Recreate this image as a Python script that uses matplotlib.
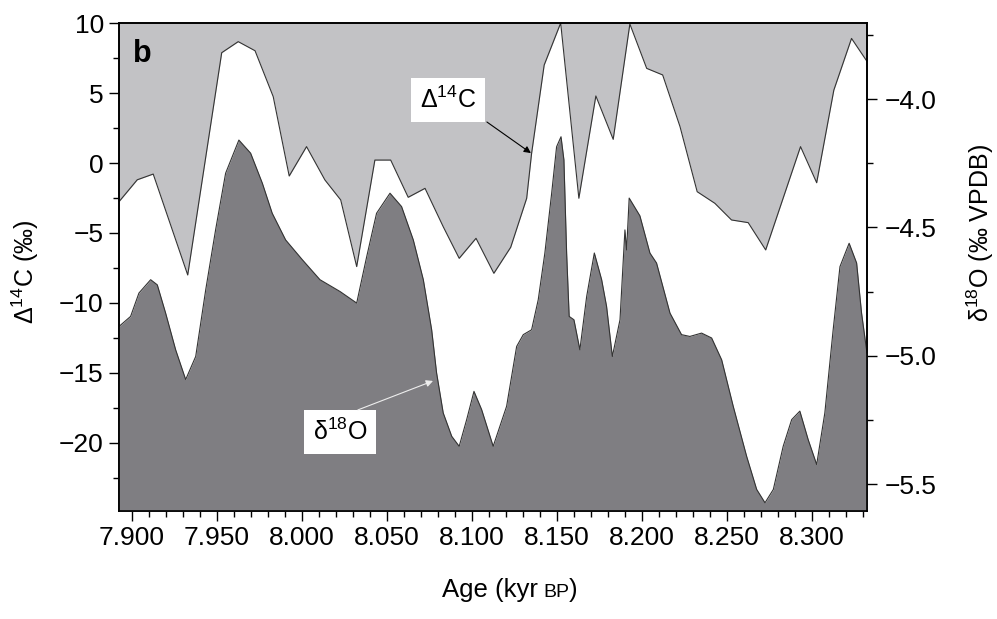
import matplotlib.pyplot as plt
from matplotlib.ticker import MultipleLocator, FormatStrFormatter, FuncFormatter

plt.rcParams['font.family'] = ['Liberation Sans', 'DejaVu Sans']

# Δ14C record (left axis)
age_c14 = [7.8924, 7.9031, 7.9125, 7.9328, 7.9528, 7.9625, 7.9724, 7.9831, 7.9925, 8.0027,
           8.0135, 8.0228, 8.0322, 8.0429, 8.0522, 8.0625, 8.0724, 8.0831, 8.0925, 8.1024,
           8.1129, 8.1228, 8.1322, 8.1351, 8.1425, 8.1522, 8.1629, 8.1729, 8.1831, 8.1929,
           8.2028, 8.2122, 8.2224, 8.2325, 8.2429, 8.2527, 8.2625, 8.2728, 8.2933, 8.3028,
           8.3129, 8.3233, 8.3325]
d14c = [-2.76, -1.20, -0.79, -8.00, 7.88, 8.67, 8.02, 4.74, -0.93, 1.17,
        -1.21, -2.64, -7.40, 0.21, 0.21, -2.45, -1.81, -4.55, -6.81, -5.38,
        -7.88, -6.02, -2.52, 0.69, 7.00, 10.0, -2.52, 4.79, 1.69, 9.93,
        6.76, 6.29, 2.60, -2.05, -2.88, -4.07, -4.26, -6.21, 1.17, -1.41,
        5.21, 8.90, 7.24]

# δ18O record (right axis)
age_o18 = [7.8924, 7.8992, 7.9041, 7.9110, 7.9149, 7.9198, 7.9257, 7.9316, 7.9375, 7.9434,
           7.9492, 7.9551, 7.9629, 7.9698, 7.9767, 7.9825, 7.9904, 8.0002, 8.0106, 8.0224,
           8.0322, 8.0381, 8.0439, 8.0518, 8.0586, 8.0655, 8.0714, 8.0763, 8.0792, 8.0831,
           8.0881, 8.0925, 8.0969, 8.1012, 8.1057, 8.1125, 8.1204, 8.1263, 8.1302, 8.1351,
           8.1390, 8.1429, 8.1469, 8.1498, 8.1524, 8.1541, 8.1557, 8.1572, 8.1600, 8.1635,
           8.1675, 8.1720, 8.1763, 8.1792, 8.1826, 8.1871, 8.1900, 8.1910, 8.1925, 8.1988,
           8.2047, 8.2086, 8.2165, 8.2233, 8.2282, 8.2351, 8.2410, 8.2469, 8.2537, 8.2616,
           8.2675, 8.2724, 8.2773, 8.2831, 8.2881, 8.2929, 8.2978, 8.3028, 8.3076, 8.3125,
           8.3165, 8.3219, 8.3263, 8.3292, 8.3324]
d18o = [-4.886, -4.847, -4.756, -4.704, -4.724, -4.834, -4.977, -5.093, -5.003, -4.743,
        -4.510, -4.289, -4.160, -4.211, -4.328, -4.445, -4.549, -4.626, -4.704, -4.750,
        -4.795, -4.614, -4.445, -4.367, -4.419, -4.549, -4.704, -4.899, -5.067, -5.223,
        -5.314, -5.353, -5.249, -5.139, -5.210, -5.353, -5.197, -4.964, -4.918, -4.899,
        -4.782, -4.600, -4.367, -4.186, -4.147, -4.237, -4.600, -4.847, -4.860, -4.977,
        -4.769, -4.600, -4.704, -4.808, -5.003, -4.860, -4.510, -4.588, -4.386, -4.455,
        -4.600, -4.639, -4.834, -4.918, -4.925, -4.912, -4.931, -5.016, -5.197, -5.392,
        -5.521, -5.573, -5.521, -5.353, -5.249, -5.216, -5.327, -5.424, -5.223, -4.899,
        -4.653, -4.562, -4.639, -4.834, -4.990]

light = '#c2c2c5'
dark = '#7f7e82'
edge = '#333333'

fig = plt.figure(figsize=(9.97, 6.19), dpi=100)
ax = fig.add_axes([0.1194, 0.1745, 0.7502, 0.7883])
ax2 = ax.twinx()

ax.fill_between(age_c14, d14c, 10, color=light, lw=0)
ax.plot(age_c14, d14c, color=edge, lw=0.8)
ax.set_xlim(7.8924, 8.3324)
ax.set_ylim(-24.86, 10)

ax2.fill_between(age_o18, d18o, -5.605, color=dark, lw=0)
ax2.plot(age_o18, d18o, color=edge, lw=0.8)
ax2.set_ylim(-5.605, -3.704)

ax.xaxis.set_major_locator(MultipleLocator(0.05))
ax.xaxis.set_minor_locator(MultipleLocator(0.01))
ax.xaxis.set_major_formatter(FormatStrFormatter('%.3f'))
ax.yaxis.set_major_locator(MultipleLocator(5))
ax.yaxis.set_minor_locator(MultipleLocator(2.5))
ax2.yaxis.set_major_locator(MultipleLocator(0.5))
ax2.yaxis.set_minor_locator(MultipleLocator(0.25))
ax2.yaxis.set_major_formatter(FuncFormatter(lambda v, p: f'{v:.1f}'.replace('-', '\u2212')))

for a in (ax, ax2):
    a.tick_params(which='major', length=7, width=1, labelsize=19, pad=4)
    a.tick_params(which='minor', length=4, width=1)
    for s in a.spines.values():
        s.set_linewidth(1.2)
ax2.tick_params(axis='y', which='major', pad=6)

# labels inside the plot
ax2.text(0.0187, 0.92, 'b', transform=ax2.transAxes, fontsize=22, fontweight='bold', va='baseline')
ax2.text(8.0859, 4.5, 'Δ$\\mathregular{^{14}}$C', transform=ax.transData, ha='center', va='center',
         fontsize=18, bbox=dict(boxstyle='square,pad=0.35', fc='white', ec='none'))
ax2.annotate('', xy=(8.1347, 0.71), xytext=(8.1088, 2.93), xycoords=ax.transData, textcoords=ax.transData,
             arrowprops=dict(arrowstyle='-|>', color='black', lw=0.8, mutation_scale=10, shrinkA=0, shrinkB=0))
ax2.text(8.0224, -19.21, 'δ$\\mathregular{^{18}}$O', transform=ax.transData, ha='center', va='center',
         fontsize=18, bbox=dict(boxstyle='square,pad=0.35', fc='white', ec='none'))
ax2.annotate('', xy=(8.0771, -15.57), xytext=(8.0329, -17.64), xycoords=ax.transData, textcoords=ax.transData,
             arrowprops=dict(arrowstyle='-|>', color='#eeeeee', lw=0.8, mutation_scale=10, shrinkA=0, shrinkB=0))

# axis labels
fig.text(25 / 997, 0.5606, 'Δ$\\mathregular{^{14}}$C (‰)', rotation=90, ha='center', va='center', fontsize=18)
fig.text(980 / 997, 0.6236, 'δ$\\mathregular{^{18}}$O (‰ VPDB)', rotation=90, ha='center', va='center', fontsize=18)

# x label with small-caps BP
yb = 0.0355
t1 = fig.text(0, yb, 'Age (kyr', fontsize=18.5, va='baseline')
t2 = fig.text(0, yb, 'BP', fontsize=14, va='baseline')
t3 = fig.text(0, yb, ')', fontsize=18.5, va='baseline')
fig.canvas.draw()
r = fig.canvas.get_renderer()
w1 = t1.get_window_extent(r).width
w2 = t2.get_window_extent(r).width
w3 = t3.get_window_extent(r).width
gap = 5
x0 = 510 - (w1 + gap + w2 + w3) / 2
t1.set_x(x0 / 997)
t2.set_x((x0 + w1 + gap) / 997)
t3.set_x((x0 + w1 + gap + w2) / 997)

fig.savefig('out.png', dpi=100)
